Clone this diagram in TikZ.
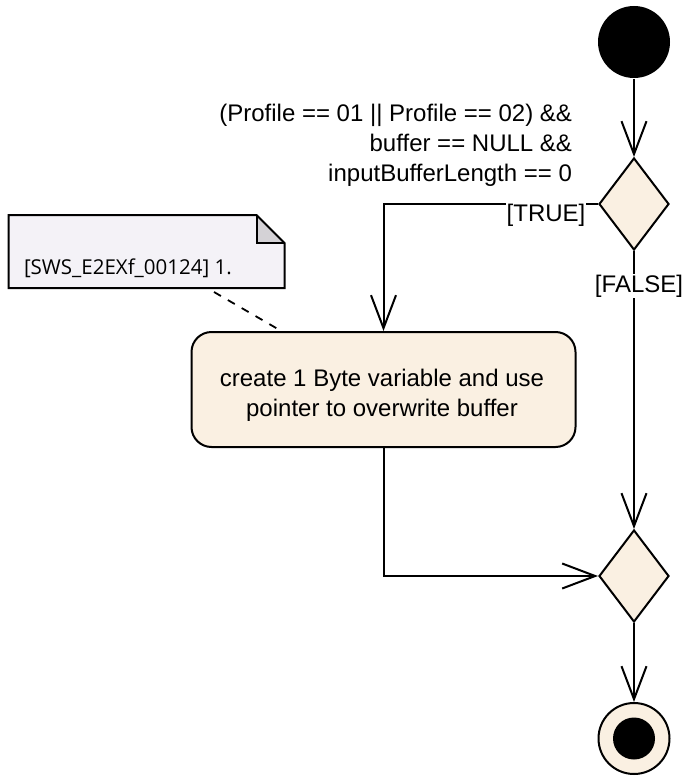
\documentclass[tikz,border=0pt]{standalone}
\usepackage{fontspec}
\setmainfont{Liberation Sans}
\newfontfamily\notefont{Open Sans}
\usetikzlibrary{arrows.meta,shapes.geometric}
\definecolor{actfill}{RGB}{250,240,226}
\definecolor{notefill}{RGB}{244,242,247}
\definecolor{foldfill}{RGB}{212,210,214}
\begin{document}
\begin{tikzpicture}[x=1pt,y=-1pt,
  line width=2pt,
  txt/.style={font=\fontsize{24pt}{30pt}\selectfont},
  flow/.style={draw, line width=2pt,
    -{Straight Barb[length=33pt,width=25pt,line width=2pt]}},
  decision/.style={draw, fill=actfill, shape=diamond, inner sep=0pt,
    minimum width=70pt, minimum height=92pt},
  actionbox/.style={draw, fill=actfill, rounded corners=20pt,
    minimum width=384pt, minimum height=115pt},
  guardlbl/.style={fill=white, inner sep=1pt, txt},
  notebox/.style={minimum width=274pt, minimum height=71pt, inner sep=0pt}]
\useasboundingbox (0,0) rectangle (683,776);

% initial node
\node[circle, fill=black, minimum size=72pt, inner sep=0pt] (start) at (634,42) {};

% decision and merge
\node[decision] (d1) at (634,204) {};
\node[decision] (d2) at (634,576) {};

% action
\node[actionbox] (act) at (383.5,389.5) {};
\node[txt, align=center, inner sep=0pt] (acttext) at (382,395)
  {create 1 Byte variable and use\\pointer to overwrite buffer};

% final node
\node[circle, draw, fill=actfill, minimum size=71pt, inner sep=0pt] (final) at (634,738.5) {};
\node[circle, fill=black, minimum size=42pt, inner sep=0pt] (finaldot) at (final) {};

% comment note
\node[notebox] (note) at (146.5,251.5) {};
\fill[notefill] (note.north west) -- ([xshift=-28pt]note.north east)
  -- ([yshift=-28pt]note.north east) -- (note.south east)
  -- (note.south west) -- cycle;
\fill[foldfill] ([xshift=-28pt]note.north east) -- ([xshift=-28pt,yshift=-28pt]note.north east)
  -- ([yshift=-28pt]note.north east) -- cycle;
\draw (note.north west) -- ([xshift=-28pt]note.north east)
  -- ([yshift=-28pt]note.north east) -- (note.south east)
  -- (note.south west) -- cycle;
\draw ([xshift=-28pt]note.north east) -- ([xshift=-28pt,yshift=-28pt]note.north east)
  -- ([yshift=-28pt]note.north east);
\node[anchor=west, inner sep=0pt, font=\notefont\fontsize{20.5pt}{24pt}\selectfont]
  (notetext) at (23,268) {[SWS\_E2EXf\_00124] 1.};
\coordinate (noteend) at (214,292);
\coordinate (actend) at (283,332);
\draw[line width=1.8pt, dash pattern=on 8pt off 8pt] (noteend) -- (actend);

% flows
\draw[flow] (start) -- (d1.north);
\draw[flow] (d1.west) -| (act.north);
\draw[flow] (d1.south) -- (d2.north);
\draw[flow] (act.south) |- (d2.west);
\draw[flow] (d2.south) -- (final.north);

% guard texts
\node[txt, align=right, anchor=north east, inner sep=0pt] (cond) at (573,103)
  {(Profile == 01 || Profile == 02) \&\&\\buffer == NULL \&\&\\inputBufferLength == 0};
\node[guardlbl] (ltrue) at (546,215) {[TRUE]};
\node[guardlbl] (lfalse) at (639,286) {[FALSE]};
\end{tikzpicture}
\end{document}
